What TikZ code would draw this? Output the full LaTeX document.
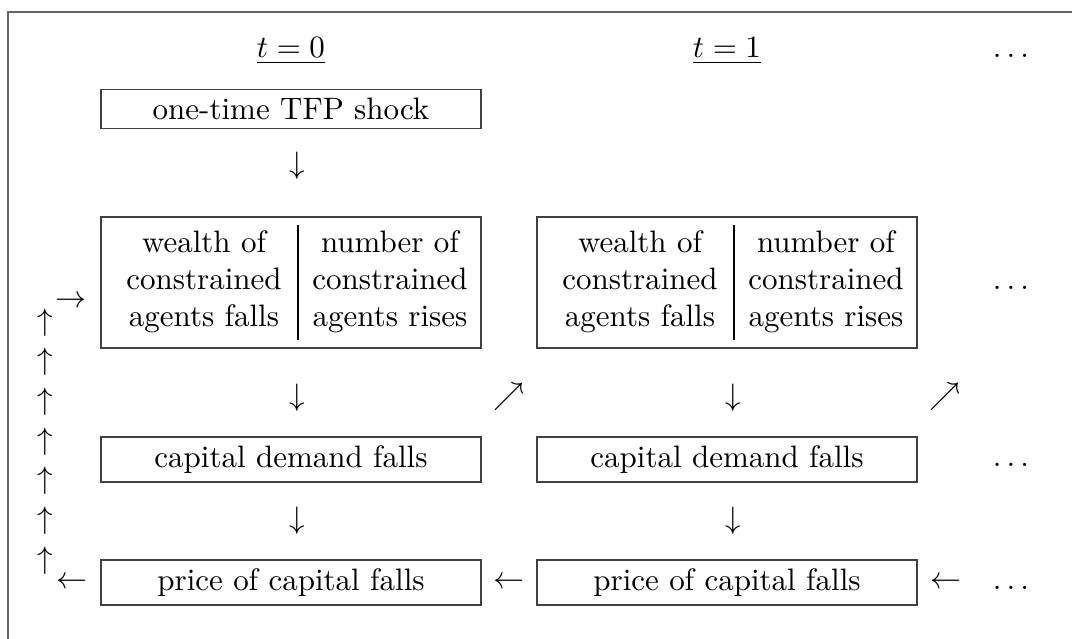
\documentclass[tikz,border=0pt]{standalone}
\usepackage{amsmath,amssymb}
\tikzset{
  effect/.style={draw=black!75, inner sep=0pt, minimum width=122.6pt, minimum height=14.52pt},
  twocol/.style={effect, minimum height=42.26pt},
  cell/.style={align=center, inner sep=0pt},
  glyph/.style={inner sep=0pt}
}
\begin{document}
\begin{tikzpicture}[x=0.3226pt,y=-0.3226pt]
\useasboundingbox (0,0) rectangle (1072,639);
\draw[black!60] (1072,12) -- (8,12) -- (8,639);

% periods
\node[anchor=base] (t0) at (291,58) {$\underline{t=0}$};
\node[anchor=base] (t1) at (727,58) {$\underline{t=1}$};
\node[anchor=base] (tdots) at (1011,58) {$\ldots$};

% t = 0
\node[effect, minimum height=12.58pt] (shock) at (291,109) {one-time TFP shock};
\node[glyph] (s0) at (297,166) {$\downarrow$};
\node[twocol] (w0) at (291,282.5) {};
\node[cell] (w0a) at (204,282) {wealth of\\constrained\\agents falls};
\node[cell] (w0b) at (390,282) {number of\\constrained\\agents rises};
\draw (298,225) -- (298,340);
\node[glyph] (wd0) at (297,398) {$\downarrow$};
\node[effect] (d0) at (291,459.5) {capital demand falls};
\node[glyph] (dp0) at (297,521) {$\downarrow$};
\node[effect] (p0) at (291,582.5) {price of capital falls};

% t = 1
\node[glyph] (n0) at (509,397) {$\nearrow$};
\node[twocol] (w1) at (727,282.5) {};
\node[cell] (w1a) at (640,282) {wealth of\\constrained\\agents falls};
\node[cell] (w1b) at (826,282) {number of\\constrained\\agents rises};
\draw (734,225) -- (734,340);
\node[glyph] (wd1) at (733,398) {$\downarrow$};
\node[effect] (d1) at (727,459.5) {capital demand falls};
\node[glyph] (dp1) at (733,521) {$\downarrow$};
\node[effect] (p1) at (727,582.5) {price of capital falls};
\node[glyph] (l0) at (509,583) {$\leftarrow$};

% later periods
\node[glyph] (n1) at (945,397) {$\nearrow$};
\node[glyph] (l1) at (946,583) {$\leftarrow$};
\node[anchor=base] (wdots) at (1011,290) {$\ldots$};
\node[anchor=base] (ddots) at (1011,467) {$\ldots$};
\node[anchor=base] (pdots) at (1011,590) {$\ldots$};

% feedback
\node[glyph] (back) at (72,583) {$\leftarrow$};
\foreach \i in {0,...,6}
  \node[glyph] (up\i) at (45,{322.5+39.67*\i}) {$\uparrow$};
\node[glyph] (in) at (71,302) {$\rightarrow$};
\end{tikzpicture}
\end{document}
